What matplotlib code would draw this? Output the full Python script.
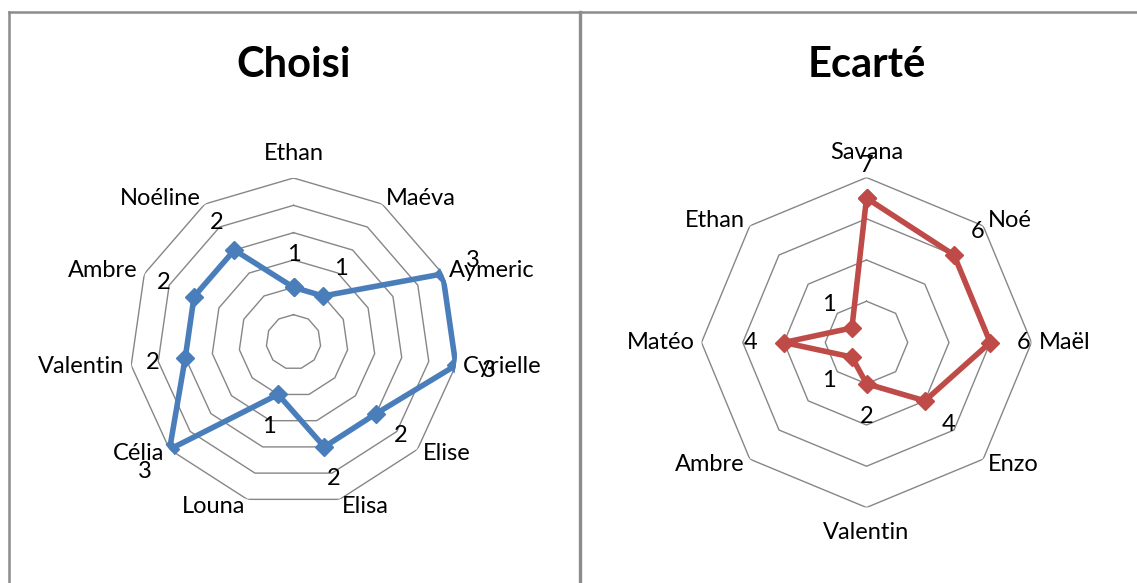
import numpy as np
import matplotlib
matplotlib.use("Agg")
import matplotlib.pyplot as plt
from matplotlib.lines import Line2D

# figure size in pixels (dpi 100)
W, H, DPI = 1137, 583, 100

# --- data -------------------------------------------------------------------
choisi_names = ["Ethan", "Maéva", "Aymeric", "Cyrielle", "Elise", "Elisa",
                "Louna", "Célia", "Valentin", "Ambre", "Noéline"]
choisi_values = [1, 1, 3, 3, 2, 2, 1, 3, 2, 2, 2]
choisi_rings = [0.5, 1, 1.5, 2, 2.5, 3]

ecarte_names = ["Savana", "Noé", "Maël", "Enzo", "Valentin", "Ambre",
                "Matéo", "Ethan"]
ecarte_values = [7, 6, 6, 4, 2, 1, 4, 1]
ecarte_rings = [2, 4, 6, 8]

GRID = "#868686"
BLUE = "#4A7EBB"
RED = "#BE4B48"
FRAME = "#8C8C8C"

plt.rcParams["font.family"] = ["Lato", "DejaVu Sans"]


def radar(fig, cx, cy, radius, title, names, values, rings, color):
    """Excel-like radar: polygon rings, no spokes, labels outside."""
    ax = fig.add_axes([(cx - radius) / W, (H - cy - radius) / H,
                       2 * radius / W, 2 * radius / H], projection="polar")
    ax.set_theta_offset(np.pi / 2)
    ax.set_theta_direction(-1)
    ax.set_ylim(0, rings[-1])
    ax.axis("off")

    n = len(names)
    theta = np.arange(n) * 2 * np.pi / n
    closed = np.append(theta, theta[0])
    for r in rings:
        ax.plot(closed, [r] * (n + 1), color=GRID, lw=1.0, zorder=1)
    ax.plot(closed, list(values) + [values[0]], color=color, lw=4,
            marker="D", ms=9, zorder=3)

    for t, name, v in zip(theta, names, values):
        s, c = np.sin(t), np.cos(t)
        if abs(s) < 0.05:
            off, ha = (0, 25 * np.sign(c)), "center"
        else:
            off, ha = (7 * s, 7 * c), ("left" if s > 0 else "right")
        ax.annotate(name, (t, rings[-1]), xytext=off,
                    textcoords="offset pixels", ha=ha, va="center",
                    fontsize=17, annotation_clip=False)
        ax.annotate(str(v), (t, v), xytext=(33 * s, 33 * c),
                    textcoords="offset pixels", ha="center", va="center",
                    fontsize=17, annotation_clip=False, zorder=4)

    fig.text(cx / W, 1 - 77 / H, title, ha="center", va="baseline",
             fontsize=30, fontweight="bold")
    return ax


fig = plt.figure(figsize=(W / DPI, H / DPI), dpi=DPI)
fig.patch.set_facecolor("white")

# chart frames
for xs, ys, lw in [((8.5, 8.5), (12, H), 1.8),
                   ((8.5, W), (12, 12), 1.8),
                   ((579.5, 579.5), (12, H), 2.4)]:
    fig.add_artist(Line2D([x / W for x in xs], [1 - y / H for y in ys],
                          color=FRAME, lw=lw))

radar(fig, 293.5, 342, 164, "Choisi", choisi_names, choisi_values,
      choisi_rings, BLUE)
radar(fig, 866.5, 342.5, 165, "Ecarté", ecarte_names, ecarte_values,
      ecarte_rings, RED)

fig.savefig("out.png", dpi=DPI)
